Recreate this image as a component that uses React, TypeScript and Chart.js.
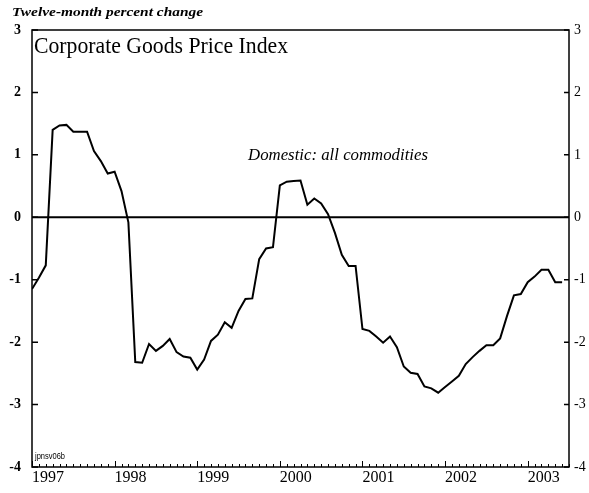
import React, { useEffect, useRef } from 'react';
import { Chart, registerables } from 'chart.js';

Chart.register(...registerables);

// Monthly observations, Jan 1997 .. Jun 2003 (twelve-month percent change)
const months1997 = [-1.15, -0.97, -0.77, 1.40, 1.47, 1.48, 1.37, 1.37, 1.37, 1.06, 0.90, 0.70];
const months1998 = [0.73, 0.42, -0.08, -2.32, -2.33, -2.03, -2.14, -2.06, -1.95, -2.16, -2.23, -2.25];
const months1999 = [-2.44, -2.28, -1.98, -1.88, -1.68, -1.77, -1.50, -1.31, -1.30, -0.67, -0.50, -0.48];
const months2000 = [0.51, 0.57, 0.58, 0.59, 0.20, 0.30, 0.22, 0.05, -0.25, -0.60, -0.78, -0.78];
const months2001 = [-1.79, -1.82, -1.91, -2.01, -1.91, -2.08, -2.39, -2.49, -2.51, -2.71, -2.74, -2.81];
const months2002 = [-2.72, -2.63, -2.54, -2.35, -2.24, -2.14, -2.05, -2.05, -1.94, -1.58, -1.25, -1.23];
const months2003 = [-1.04, -0.95, -0.84, -0.84, -1.04, -1.04];

const domesticAllCommodities = [
  ...months1997, ...months1998, ...months1999, ...months2000,
  ...months2001, ...months2002, ...months2003,
];

const yearLabels = ['1997', '1998', '1999', '2000', '2001', '2002', '2003'];
const monthsOnAxis = 78; // Jan 1997 .. Jul 2003
const yTicks = [-4, -3, -2, -1, 0, 1, 2, 3];

const titleText = 'Corporate Goods Price Index';
const unitsText = 'Twelve-month percent change';
const seriesText = 'Domestic: all commodities';
const idText = 'jpnsv06b';

const SERIF = '"Liberation Serif", "Times New Roman", serif';
const SANS = '"Liberation Sans", Arial, sans-serif';

function drawFitted(ctx: CanvasRenderingContext2D, text: string, x: number, y: number, font: string, width: number) {
  ctx.save();
  ctx.font = font;
  ctx.textAlign = 'left';
  ctx.textBaseline = 'alphabetic';
  ctx.fillStyle = '#000';
  const w = ctx.measureText(text).width;
  ctx.translate(x, y);
  ctx.scale(width / w, 1);
  ctx.fillText(text, 0, 0);
  ctx.restore();
}

const framePlugin = {
  id: 'frameAndAnnotations',
  afterDatasetsDraw(chart: any) {
    const { ctx, chartArea: a, scales } = chart;
    const xs = scales.x;
    const ys = scales.y;
    ctx.save();
    ctx.strokeStyle = '#000';
    ctx.lineCap = 'butt';

    // zero line
    const y0 = ys.getPixelForValue(0);
    ctx.lineWidth = 2;
    ctx.beginPath();
    ctx.moveTo(a.left, y0);
    ctx.lineTo(a.right, y0);
    ctx.stroke();

    // frame
    ctx.lineWidth = 1.5;
    ctx.strokeRect(a.left, a.top, a.right - a.left, a.bottom - a.top);

    // y ticks (inward, both sides)
    ctx.lineWidth = 1.5;
    for (const v of yTicks) {
      const py = ys.getPixelForValue(v);
      ctx.beginPath();
      ctx.moveTo(a.left, py);
      ctx.lineTo(a.left + 6, py);
      ctx.moveTo(a.right, py);
      ctx.lineTo(a.right - 5, py);
      ctx.stroke();
    }

    // x ticks: monthly minor, yearly major (inward)
    ctx.lineWidth = 1;
    for (let m = 0; m <= monthsOnAxis; m++) {
      const px = Math.round(xs.getPixelForValue(m)) + 0.5;
      const len = m % 12 === 0 ? 6 : 3;
      ctx.beginPath();
      ctx.moveTo(px, a.bottom);
      ctx.lineTo(px, a.bottom - len);
      ctx.stroke();
    }
    ctx.restore();

    // annotations
    drawFitted(ctx, titleText, a.left + 2, a.top + 23, `24px ${SERIF}`, 254);
    drawFitted(ctx, unitsText, 12, 16, `italic bold 13px ${SERIF}`, 191);
    drawFitted(ctx, seriesText, 248, 159.5, `italic 17px ${SERIF}`, 180);
    drawFitted(ctx, idText, a.left + 3, a.bottom - 8.5, `9px ${SANS}`, 30);
  },
};

export default function App() {
  const canvasRef = useRef<HTMLCanvasElement | null>(null);

  useEffect(() => {
    const canvas = canvasRef.current;
    if (!canvas) return;
    const chart = new Chart(canvas, {
      type: 'line',
      data: {
        datasets: [
          {
            label: seriesText,
            data: domesticAllCommodities.map((v, i) => ({ x: i, y: v })),
            borderColor: '#000',
            borderWidth: 2,
            pointRadius: 0,
            tension: 0,
            fill: false,
          },
        ],
      },
      options: {
        animation: false,
        responsive: false,
        devicePixelRatio: 1,
        layout: { padding: { top: 30, left: 0, right: 0, bottom: 0 } },
        plugins: {
          legend: { display: false },
          tooltip: { enabled: false },
          title: { display: false },
        },
        scales: {
          x: {
            type: 'linear',
            min: 0,
            max: monthsOnAxis,
            position: 'bottom',
            grid: { display: false, drawTicks: false },
            border: { display: false },
            afterBuildTicks: (s: any) => {
              s.ticks = yearLabels.map((_, i) => ({ value: i * 12 }));
            },
            afterFit: (s: any) => {
              s.height = 26;
            },
            ticks: {
              align: 'start',
              autoSkip: false,
              maxRotation: 0,
              minRotation: 0,
              padding: 1,
              color: '#000',
              font: { family: SERIF, size: 16 },
              callback: (v: any) => yearLabels[Math.round(Number(v) / 12)] ?? '',
            },
          },
          y: {
            type: 'linear',
            min: -4,
            max: 3,
            position: 'left',
            grid: { display: false, drawTicks: false },
            border: { display: false },
            afterBuildTicks: (s: any) => {
              s.ticks = yTicks.map((v) => ({ value: v }));
            },
            afterFit: (s: any) => {
              s.width = 32;
            },
            ticks: {
              padding: 11,
              color: '#000',
              font: { family: SERIF, size: 14, weight: 'bold' },
              callback: (v: any) => String(v),
            },
          },
          y2: {
            type: 'linear',
            min: -4,
            max: 3,
            position: 'right',
            grid: { display: false, drawTicks: false },
            border: { display: false },
            afterBuildTicks: (s: any) => {
              s.ticks = yTicks.map((v) => ({ value: v }));
            },
            afterFit: (s: any) => {
              s.width = 20;
            },
            ticks: {
              padding: 5,
              color: '#000',
              font: { family: SERIF, size: 14 },
              callback: (v: any) => String(v),
            },
          },
        },
      } as any,
      plugins: [framePlugin],
    });
    return () => chart.destroy();
  }, []);

  return (
    <div style={{ position: 'absolute', left: 0, top: 0, width: 589, height: 493, background: '#fff' }}>
      <canvas ref={canvasRef} width={589} height={493} style={{ display: 'block' }} />
    </div>
  );
}
